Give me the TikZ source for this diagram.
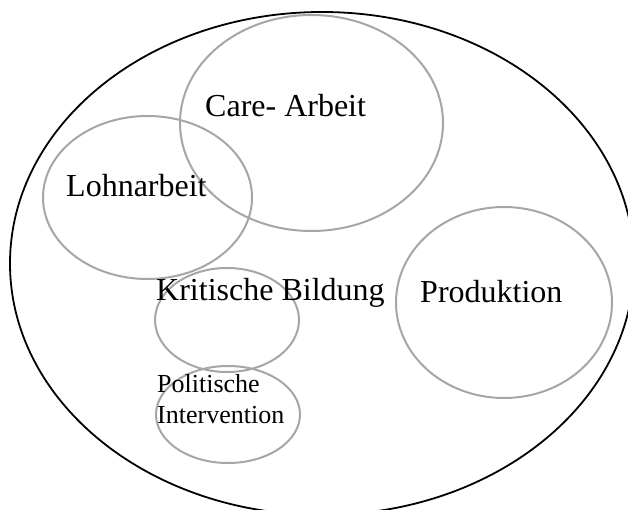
\documentclass[tikz,border=0pt]{standalone}
\usepackage{fontspec}
\setmainfont{Liberation Serif}
\usetikzlibrary{positioning,shapes.geometric}
\definecolor{ringgray}{HTML}{A6A6A6}
\tikzset{
	area/.style={ellipse, draw=ringgray, line width=2pt, inner sep=0pt},
	lbl/.style={font=\fontsize{32}{38}\selectfont, inner sep=0pt, anchor=base west},
	lblsmall/.style={font=\fontsize{26}{31}\selectfont, inner sep=0pt, anchor=base west}
}

\begin{document}
\begin{tikzpicture}[x=1pt,y=-1pt]
	\useasboundingbox (0,0) rectangle (628,510);
	\node [ellipse, draw=black, line width=1.8pt, inner sep=0pt, minimum width=624pt, minimum height=503pt] (W) at (322,263.5) {};
	\node [area, minimum width=263pt, minimum height=216pt] (C) at (311.5,123) {};
	\node [area, minimum width=209pt, minimum height=163pt] (L) at (147.5,197.5) {};
	\node [area, minimum width=216pt, minimum height=191pt] (P) at (504,302.5) {};
	\node [area, minimum width=144pt, minimum height=104pt] (K) at (227,320) {};
	\node [area, minimum width=144pt, minimum height=97pt] (I) at (228,414.5) {};
	\node [lbl] (Ct) at (205,117) {Care- Arbeit};
	\node [lbl] (Lt) at (66,197) {Lohnarbeit};
	\node [lbl] (Pt) at (420,302) {Produktion};
	\node [lbl] (Kt) at (156,300) {Kritische Bildung};
	\node [lblsmall] (It) at (157,392) {Politische};
	\node [lblsmall, below=31pt of It.base west, anchor=base west] (Iu) {Intervention};
\end{tikzpicture}
\end{document}
